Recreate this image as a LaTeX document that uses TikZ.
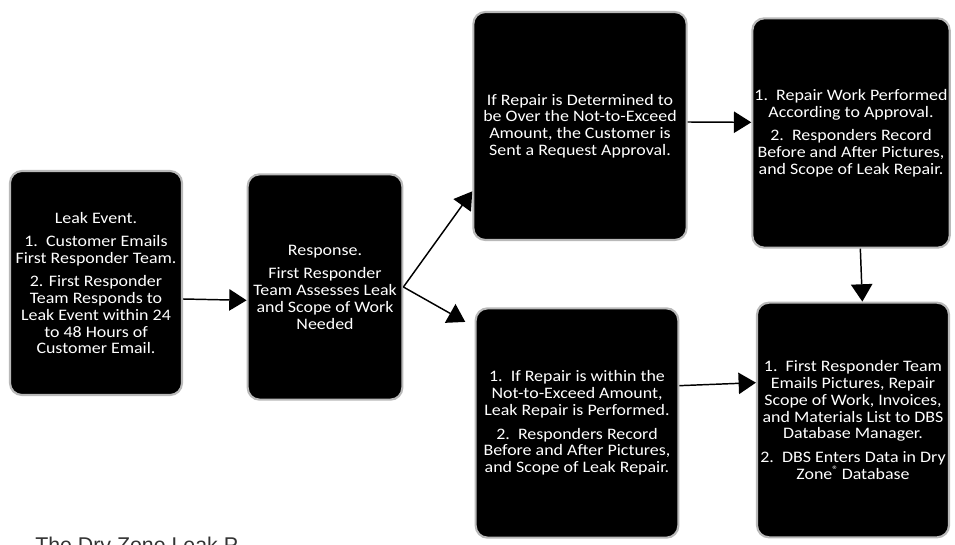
\documentclass[tikz,border=0pt]{standalone}
\usepackage{fontspec}
\setmainfont{Carlito}[FakeStretch=1.12]
\newfontfamily\capfont{Liberation Sans}
\usetikzlibrary{arrows.meta}
\begin{document}
\begin{tikzpicture}[x=0.75pt,y=-0.75pt,
  flowbox/.style={fill=black, draw=gray!55, line width=1.6pt, rounded corners=9pt,
    text=white, align=center, inner sep=1pt,
    font=\fontsize{12}{12.6}\selectfont},
  arr/.style={draw=black, line width=1.1pt, -{Triangle[length=13pt,width=16pt]}}]
\useasboundingbox (0,0) rectangle (955,545);
\clip (0,0) rectangle (955,545);
\fill[white] (0,0) rectangle (955,545);

\node[flowbox, minimum width=129pt, minimum height=168pt] (b1) at (96,283)
  {Leak Event.\\[5pt]
   1.\ \ Customer Emails\\ First Responder Team.\\[5pt]
   2. First Responder\\ Team Responds to\\ Leak Event within 24\\ to 48 Hours of\\ Customer Email.};

\node[flowbox, minimum width=116pt, minimum height=169pt] (b2) at (325,287)
  {Response.\\[5pt]
   First Responder\\ Team Assesses Leak\\ and Scope of Work\\ Needed};

\node[flowbox, minimum width=160pt, minimum height=171pt] (b3) at (580,126)
  {If Repair is Determined to\\ be Over the Not-to-Exceed\\ Amount, the Customer is\\ Sent a Request Approval.};

\node[flowbox, minimum width=148pt, minimum height=172pt] (b4) at (851,133)
  {1.\ \ Repair Work Performed\\ According to Approval.\\[5pt]
   2.\ \ Responders Record\\ Before and After Pictures,\\ and Scope of Leak Repair.};

\node[flowbox, minimum width=152pt, minimum height=172pt] (b5) at (577,423)
  {1.\ \ If Repair is within the\\ Not-to-Exceed Amount,\\ Leak Repair is Performed.\\[5pt]
   2.\ \ Responders Record\\ Before and After Pictures,\\ and Scope of Leak Repair.};

\node[flowbox, minimum width=144pt, minimum height=176pt] (b6) at (853,420)
  {1.\ \ First Responder Team\\ Emails Pictures, Repair\\ Scope of Work, Invoices,\\ and Materials List to DBS\\ Database Manager.\\[5pt]
   2.\ \ DBS Enters Data in Dry\\ Zone\textsuperscript{®}\,Database};

\draw[arr] ([yshift=-12pt]b1.east) -- ([yshift=-10pt]b2.west);
\draw[arr] (b2.east) -- ([yshift=-49pt]b3.west);
\draw[arr] (b2.east) -- ([xshift=-7pt,yshift=-11pt]b5.north west);
\draw[arr] ([yshift=3pt]b3.east) -- ([yshift=8pt]b4.west);
\draw[arr] ([xshift=7pt]b4.south) -- ([xshift=7pt]b6.north);
\draw[arr] ([yshift=28pt]b5.east) -- ([yshift=28pt]b6.west);

\node[anchor=north west, inner sep=0pt, text=black!80, font=\capfont\fontsize{16}{18}\selectfont] (cap) at (35,537) {The Dry Zone Leak P};
\end{tikzpicture}
\end{document}
